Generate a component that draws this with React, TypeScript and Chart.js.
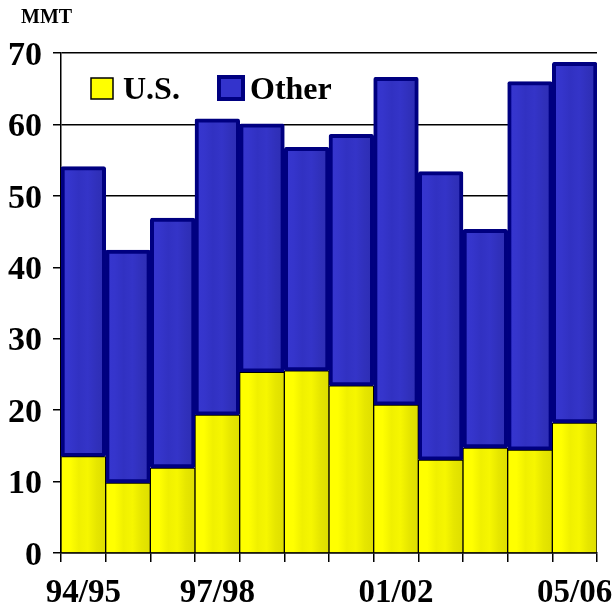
import React, { useEffect, useRef } from 'react';
import { Chart, registerables } from 'chart.js';

Chart.register(...registerables);

const years = ['94/95', '95/96', '96/97', '97/98', '98/99', '99/00', '00/01', '01/02', '02/03', '03/04', '04/05', '05/06'];
const shownYears = ['94/95', '97/98', '01/02', '05/06'];
const usValues = [13.5, 9.8, 11.9, 19.3, 25.3, 25.5, 23.4, 20.7, 13.0, 14.7, 14.4, 18.2];
const otherValues = [40.6, 32.6, 35.0, 41.5, 34.8, 31.3, 35.2, 45.9, 40.4, 30.6, 51.6, 50.5];
const yTicks = [0, 10, 20, 30, 40, 50, 60, 70];

const FONT = '"Liberation Serif", "Times New Roman", Times, serif';
const YELLOW = ['#ffff00', '#ffff00', '#f0f000', '#f6f600', '#e6e600', '#dede00'];
const BLUE = ['#3636d0', '#3535cc', '#3131c2', '#3434c8', '#3030bb', '#2d2db2'];

function shade(ctx: any, colors: string[]) {
  if (ctx.type !== 'data') return colors[0];
  const chart = ctx.chart;
  const xs = chart.scales && chart.scales.x;
  if (!xs || !chart.chartArea) return colors[0];
  const w = xs.width / years.length;
  const cx = xs.getPixelForValue(ctx.dataIndex);
  if (!isFinite(cx) || !isFinite(w) || w <= 0) return colors[0];
  const g = chart.ctx.createLinearGradient(cx - w / 2, 0, cx + w / 2, 0);
  colors.forEach((c, i) => g.addColorStop(i / (colors.length - 1), c));
  return g;
}

const overlayPlugin = {
  id: 'overlay',
  afterDraw(chart: any) {
    const c = chart.ctx;
    const a = chart.chartArea;
    c.save();
    c.fillStyle = '#000';
    c.textBaseline = 'alphabetic';
    c.textAlign = 'left';
    c.font = `bold 20px ${FONT}`;
    c.fillText('MMT', 21, 23);

    const ds = chart.data.datasets;
    const y0 = a.top + 25;
    // U.S.
    c.fillStyle = '#ffff00';
    c.fillRect(a.left + 30, y0, 22, 21);
    c.lineWidth = 1.5;
    c.strokeStyle = '#000';
    c.strokeRect(a.left + 30, y0, 22, 21);
    c.fillStyle = '#000';
    c.font = `bold 32px ${FONT}`;
    c.fillText(ds[0].label, a.left + 62, y0 + 21);
    // Other
    c.fillStyle = '#3333cc';
    c.fillRect(a.left + 158, y0 - 1, 24, 22);
    c.lineWidth = 4;
    c.strokeStyle = '#000080';
    c.strokeRect(a.left + 158, y0 - 1, 24, 22);
    c.fillStyle = '#000';
    c.fillText(ds[1].label, a.left + 189, y0 + 21);
    c.restore();
  },
};

export default function App() {
  const ref = useRef<HTMLCanvasElement>(null);
  useEffect(() => {
    if (!ref.current) return;
    const chart = new Chart(ref.current, {
      type: 'bar',
      data: {
        labels: years,
        datasets: [
          {
            label: 'U.S.',
            data: usValues,
            backgroundColor: (ctx: any) => shade(ctx, YELLOW),
            borderColor: '#000',
            borderWidth: 1,
            borderSkipped: 'start',
            barPercentage: 1,
            categoryPercentage: 1,
          },
          {
            label: 'Other',
            data: otherValues,
            backgroundColor: (ctx: any) => shade(ctx, BLUE),
            borderColor: '#000080',
            borderWidth: 4,
            borderSkipped: false,
            borderRadius: 2,
            barPercentage: 1,
            categoryPercentage: 1,
          },
        ],
      },
      options: {
        responsive: false,
        animation: false,
        events: [],
        layout: { padding: { top: 53, right: 16, left: 0, bottom: 0 } },
        plugins: {
          legend: { display: false },
          tooltip: { enabled: false },
          title: { display: false },
        },
        scales: {
          x: {
            stacked: true,
            z: 1,
            afterFit: (s: any) => { s.height = 55; s.paddingLeft = 0; s.paddingRight = 0; },
            grid: {
              color: '#000',
              lineWidth: 1.5,
              offset: true,
              drawOnChartArea: false,
              drawTicks: true,
              tickLength: 9,
            },
            border: { color: '#000', width: 1.5 },
            ticks: {
              autoSkip: false,
              maxRotation: 0,
              minRotation: 0,
              padding: 12,
              color: '#000',
              font: { family: FONT, size: 33, weight: 'bold' },
              callback: (_v: any, i: number) => (shownYears.includes(years[i]) ? years[i] : ''),
            },
          },
          y: {
            stacked: true,
            z: 1,
            min: yTicks[0],
            max: yTicks[yTicks.length - 1],
            afterFit: (s: any) => { s.width = 61; s.paddingTop = 0; s.paddingBottom = 0; },
            afterBuildTicks: (s: any) => { s.ticks = yTicks.map((v) => ({ value: v })); },
            grid: {
              color: '#000',
              lineWidth: 1.5,
              drawTicks: true,
              tickLength: 8,
            },
            border: { color: '#000', width: 1.5 },
            ticks: {
              padding: 11,
              labelOffset: 3,
              color: '#000',
              font: { family: FONT, size: 34, weight: 'bold' },
            },
          },
        },
      },
      plugins: [overlayPlugin],
    } as any);
    return () => chart.destroy();
  }, []);
  return (
    <div style={{ position: 'absolute', left: 0, top: 0, width: 613, height: 608, background: '#fff' }}>
      <canvas ref={ref} width={613} height={608} />
    </div>
  );
}
